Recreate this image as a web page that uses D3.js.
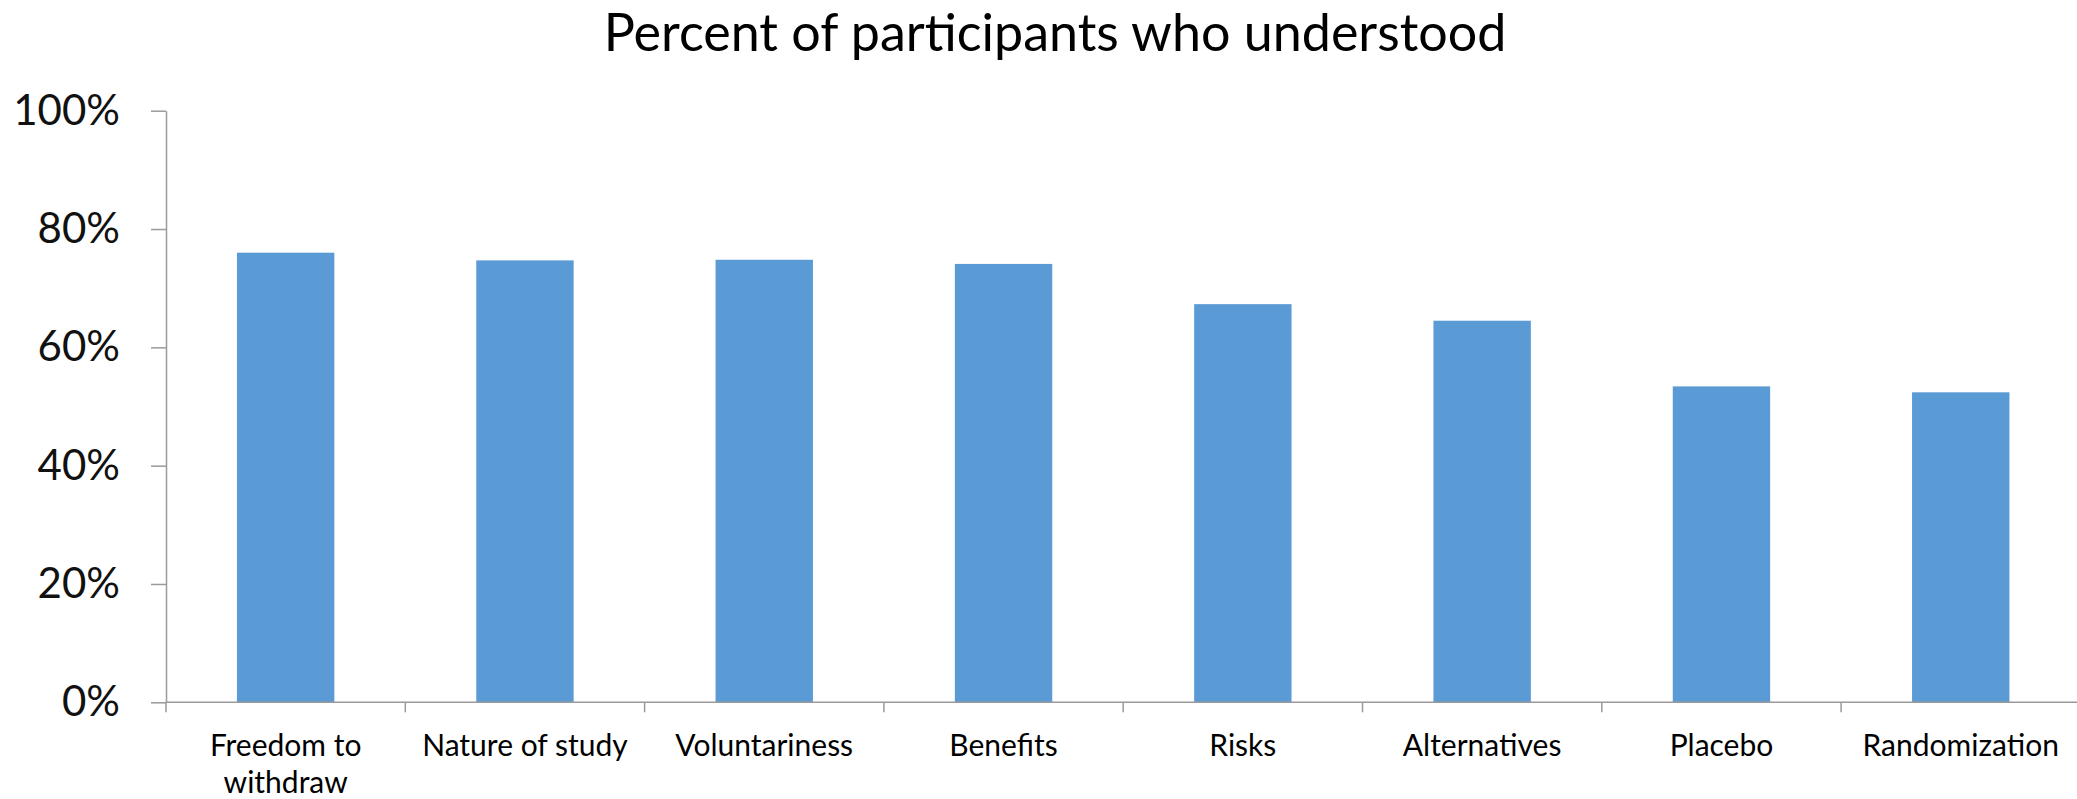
<!DOCTYPE html>
<html>
<head>
<meta charset="utf-8">
<script src="https://cdn.jsdelivr.net/npm/d3@7.9.0/dist/d3.min.js"></script>
<style>
  html, body { margin: 0; padding: 0; background: #fff; }
  svg { display: block; font-family: Lato, "Noto Sans", sans-serif; }
  .title { font-size: 52px; fill: #000; }
  .y-axis text { font-family: Lato, sans-serif; font-size: 42px; fill: #111; }
  .x-axis text { font-size: 30px; fill: #000; }
</style>
</head>
<body>
<div id="chart"></div>
<script>
const categories = ['Freedom to withdraw', 'Nature of study', 'Voluntariness', 'Benefits',
  'Risks', 'Alternatives', 'Placebo', 'Randomization'];
const understood = [0.760, 0.747, 0.748, 0.741, 0.673, 0.645, 0.534, 0.524];
const yTicks = [0, 0.2, 0.4, 0.6, 0.8, 1.0];
const titleText = 'Percent of participants who understood';

const width = 2077, height = 799;
const axisColor = '#9a9a9a';

const svg = d3.select('#chart').append('svg')
  .attr('width', width)
  .attr('height', height);

const data = categories.map((c, i) => ({ category: c, value: understood[i] }));

// plot area (the category axis runs off the right edge, like the original)
const plotLeft = 166, plotBottom = 702.3, plotTop = 110.7, step = 239.3;

const x = d3.scaleBand()
  .domain(categories)
  .range([plotLeft, plotLeft + step * categories.length])
  .paddingInner(0.593)
  .paddingOuter(0.2965);

const y = d3.scaleLinear().domain([0, 1]).range([plotBottom, plotTop]);

// title
svg.append('text')
  .attr('class', 'title')
  .attr('x', 1055)
  .attr('y', 51)
  .attr('text-anchor', 'middle')
  .text(titleText);

// bars
svg.append('g')
  .selectAll('rect')
  .data(data)
  .join('rect')
    .attr('x', d => x(d.category))
    .attr('y', d => y(d.value))
    .attr('width', x.bandwidth())
    .attr('height', d => y(0) - y(d.value))
    .attr('fill', '#5B9BD5');

// y axis
const yAxis = svg.append('g')
  .attr('class', 'y-axis')
  .attr('transform', `translate(${plotLeft},0)`)
  .call(d3.axisLeft(y)
    .tickValues(yTicks)
    .tickFormat(d3.format('.0%'))
    .tickSize(15)
    .tickSizeOuter(0)
    .tickPadding(31));
yAxis.attr('font-family', null).attr('font-size', null);
yAxis.select('.domain').attr('stroke', axisColor).attr('stroke-width', 1.5);
yAxis.selectAll('.tick line').attr('stroke', axisColor).attr('stroke-width', 1.5);

// x axis: line, boundary ticks, wrapped labels
const xAxis = svg.append('g').attr('class', 'x-axis');
xAxis.append('line')
  .attr('x1', plotLeft).attr('x2', width)
  .attr('y1', plotBottom).attr('y2', plotBottom)
  .attr('stroke', axisColor).attr('stroke-width', 1.5);

const boundaries = d3.range(categories.length + 1).map(i => x.range()[0] + i * x.step());
xAxis.selectAll('.bound')
  .data(boundaries)
  .join('line')
    .attr('class', 'bound')
    .attr('x1', d => d).attr('x2', d => d)
    .attr('y1', plotBottom).attr('y2', plotBottom + 10)
    .attr('stroke', axisColor).attr('stroke-width', 1.5);

const labels = xAxis.selectAll('.lbl')
  .data(categories)
  .join('text')
    .attr('class', 'lbl')
    .attr('text-anchor', 'middle')
    .attr('x', d => x(d) + x.bandwidth() / 2)
    .attr('y', 756);

function wrap(textSel, maxWidth) {
  textSel.each(function(d) {
    const text = d3.select(this);
    const words = d.split(' ');
    const cx = text.attr('x');
    let line = [];
    let tspan = text.append('tspan').attr('x', cx).attr('dy', 0);
    for (const w of words) {
      line.push(w);
      tspan.text(line.join(' '));
      if (tspan.node().getComputedTextLength() > maxWidth && line.length > 1) {
        line.pop();
        tspan.text(line.join(' '));
        line = [w];
        tspan = text.append('tspan').attr('x', cx).attr('dy', 37).text(w);
      }
    }
  });
}
labels.call(wrap, 225);
</script>
</body>
</html>
